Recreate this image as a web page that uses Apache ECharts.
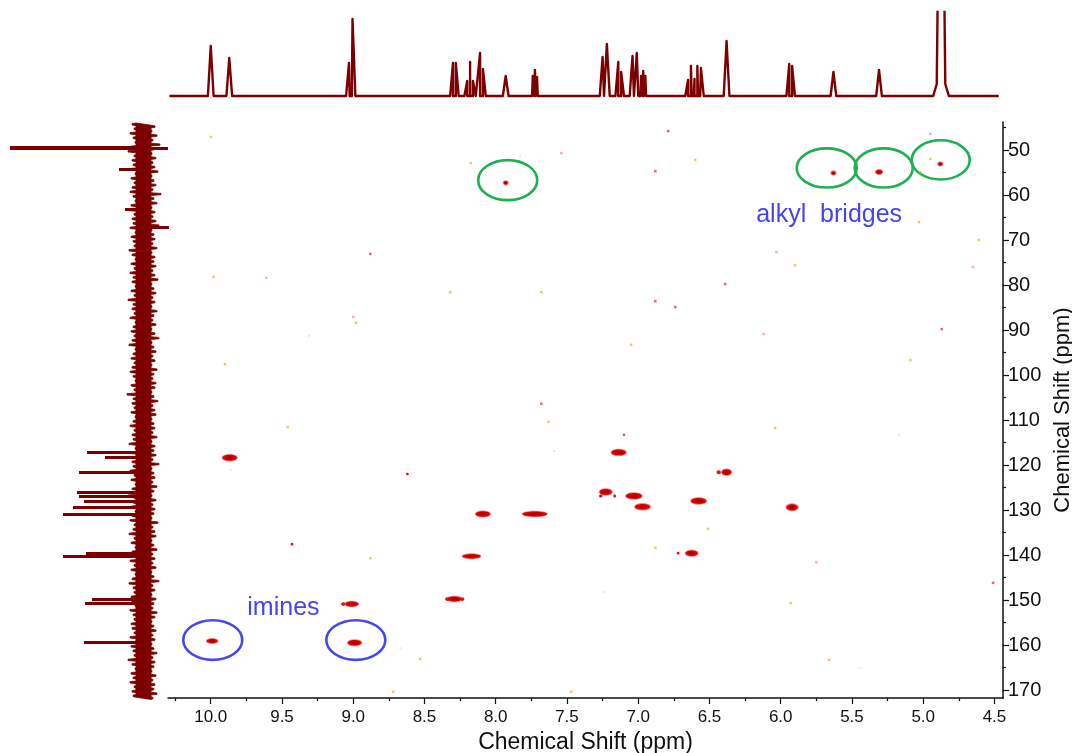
<!DOCTYPE html>
<html>
<head>
<meta charset="utf-8">
<script src="https://cdn.jsdelivr.net/npm/echarts@6/dist/echarts.min.js"></script>
<style>
  html, body { margin: 0; padding: 0; background: #fff; }
  #chart { width: 1072px; height: 753px; }
</style>
</head>
<body>
<div id="chart"></div>
<script>
// ---- axis ranges and tick values (ppm) ----
const protonRange = [4.44, 10.30];
const carbonRange = [43.78, 171.78];
const protonTicks = [4.5, 5.0, 5.5, 6.0, 6.5, 7.0, 7.5, 8.0, 8.5, 9.0, 9.5, 10.0];
const protonMinorTicks = [4.75, 5.25, 5.75, 6.25, 6.75, 7.25, 7.75, 8.25, 8.75, 9.25, 9.75, 10.25];
const carbonTicks = [50, 60, 70, 80, 90, 100, 110, 120, 130, 140, 150, 160, 170];
const carbonMinorTicks = [45, 55, 65, 75, 85, 95, 105, 115, 125, 135, 145, 155, 165];

// ---- 1H projection: [shift ppm, intensity] ----
const protonPeaks = [
  [10.00, 50], [9.87, 38],
  [9.03, 33], [9.005, 77],
  [8.30, 33], [8.28, 33],
  [8.20, 15], [8.18, 34], [8.16, 15],
  [8.11, 43], [8.09, 27],
  [7.93, 20],
  [7.74, 20], [7.725, 26], [7.71, 19],
  [7.25, 39], [7.22, 52],
  [7.14, 34], [7.12, 24],
  [7.04, 40], [7.01, 43], [6.98, 20], [6.965, 25], [6.95, 20],
  [6.65, 16], [6.63, 30], [6.605, 17], [6.585, 30], [6.56, 28],
  [6.38, 55],
  [5.94, 32], [5.92, 30],
  [5.63, 24],
  [5.31, 26]
];
// broad solvent line (runs off the top of the panel)
const protonSolvent = [4.875, 400];
const protonSpan = [10.29, 4.47];

// ---- 13C projection: [shift ppm, intensity] ----
const carbonPeaks = [
  [49.6, 133], [54.2, 24], [63.1, 18],
  [117.1, 56], [118.2, 38], [121.6, 64], [126.0, 66], [126.9, 64],
  [128.0, 59], [129.3, 70], [130.9, 80], [139.6, 57], [140.2, 80],
  [149.8, 51], [150.7, 58], [159.3, 59]
];
const carbonNegative = [[49.6, -25], [67.1, -26]];
const carbonNoiseStart = 44;
const carbonNoiseLeft = [
  11, 9, 13, 10, 8, 12, 15, 9, 11, 10, 14, 8, 12, 9, 11, 13,
  10, 8, 12, 16, 9, 11, 10, 13, 8, 12, 10, 9, 14, 11, 8, 12,
  9, 13, 10, 11, 8, 12, 9, 15, 10, 11, 9, 13, 8, 10, 12, 9,
  11, 14, 8, 10, 12, 9, 11, 13, 10, 8, 12, 9, 16, 10, 11, 9,
  12, 8, 10, 13, 9, 11, 10, 14, 8, 12, 9, 11, 10, 13, 9, 12,
  8, 11, 15, 9, 10, 12, 8, 11, 13, 9, 10, 14, 9, 12, 8, 11,
  10, 13, 9, 12, 8, 11, 14, 10, 9, 12, 11, 8, 13, 10, 9, 12,
  11, 9, 13, 8, 12, 10, 9, 15, 11, 8, 12, 10, 13, 9, 11, 10
];
const carbonNoiseRight = [
  -12, -9, -14, -10, -17, -11, -9, -13, -10, -12, -15, -9, -11, -13, -10, -18,
  -11, -14, -9, -12, -10, -13, -16, -9, -11, -12, -10, -14, -9, -12, -11, -13,
  -10, -12, -15, -9, -11, -13, -10, -12, -9, -14, -11, -10, -13, -9, -12, -16,
  -9, -11, -13, -10, -12, -9, -14, -11, -10, -13, -12, -9, -11, -15, -10, -12,
  -13, -9, -11, -12, -10, -14, -9, -12, -11, -13, -10, -16, -9, -11, -12, -10,
  -14, -11, -9, -13, -10, -12, -11, -9, -15, -10, -12, -13, -9, -11, -14, -10,
  -12, -10, -13, -9, -11, -16, -10, -12, -9, -13, -11, -10, -14, -12, -9, -11,
  -13, -10, -12, -9, -11, -14, -10, -12, -11, -9, -13, -10, -12, -11, -14, -10
];

// ---- HSQC cross peaks: [1H ppm, 13C ppm, 1H extent ppm, 13C extent ppm] ----
const crossPeaks = [
  [9.867, 118.4, 0.100, 1.3],
  [7.137, 117.2, 0.100, 1.3],
  [7.228, 126.0, 0.085, 1.3],
  [7.030, 126.9, 0.110, 1.3],
  [6.970, 129.3, 0.105, 1.3],
  [6.576, 128.0, 0.105, 1.3],
  [5.920, 129.4, 0.080, 1.4],
  [6.380, 121.6, 0.065, 1.3],
  [8.090, 130.9, 0.100, 1.2],
  [7.726, 130.9, 0.170, 1.1],
  [8.170, 140.3, 0.125, 1.0],
  [8.290, 149.8, 0.100, 1.1],
  [9.010, 150.9, 0.090, 1.1],
  [9.990, 159.1, 0.075, 1.0],
  [8.990, 159.5, 0.095, 1.2],
  [6.625, 139.6, 0.085, 1.2],
  [7.930, 57.3, 0.030, 0.8],
  [5.630, 55.1, 0.030, 0.8],
  [5.310, 54.9, 0.045, 1.0],
  [4.880, 53.1, 0.030, 0.8]
];
// weak shoulders next to the main contours
const weakPeaks = [
  [7.263, 126.9, 0.025, 0.7], [7.165, 126.9, 0.020, 0.7],
  [6.435, 121.6, 0.030, 0.9], [8.340, 149.8, 0.030, 0.8],
  [8.235, 149.8, 0.030, 0.8], [9.070, 150.9, 0.030, 0.8],
  [6.720, 139.6, 0.020, 0.6], [9.430, 137.6, 0.020, 0.6],
  [8.620, 122.0, 0.020, 0.6]
];
// isolated noise points of the contour map
const noiseOrange = [
  [10.00, 47.1], [8.175, 52.9], [6.60, 52.2], [5.02, 54.9], [4.95, 52.0],
  [5.03, 66.0], [4.61, 70.0], [9.98, 78.2], [8.32, 81.6], [7.68, 81.6],
  [8.98, 88.4], [9.90, 97.6], [7.63, 110.4], [9.46, 111.6], [5.90, 75.6],
  [7.05, 93.3], [5.09, 96.7], [6.04, 111.8], [6.51, 134.2], [6.88, 138.4],
  [5.93, 150.7], [5.66, 163.3], [8.88, 140.7], [8.53, 163.1], [8.72, 170.4],
  [7.47, 170.4]
];
const noiseFaint = [
  [7.83, 51.3], [5.17, 113.3], [7.59, 116.9], [5.44, 165.1], [7.24, 148.2],
  [9.86, 121.1], [8.67, 160.7], [9.31, 91.3]
];
const noisePink = [
  [7.54, 50.7], [4.95, 46.4], [9.61, 78.4], [9.00, 87.1], [6.03, 72.7],
  [4.65, 76.0], [6.12, 90.9], [5.75, 141.6]
];
const noiseRed = [
  [6.79, 45.8], [6.88, 54.7], [8.88, 73.1], [7.68, 106.4], [6.39, 79.8],
  [6.88, 83.6], [6.74, 84.9], [4.87, 89.8], [7.10, 113.3], [4.51, 146.2]
];

// ---- annotations: [1H centre, 13C centre, 1H span, 13C span] ----
const alkylRings = [
  [7.916, 56.7, 0.414, 8.9],
  [5.677, 54.0, 0.421, 8.7],
  [5.277, 54.0, 0.407, 8.7],
  [4.877, 52.2, 0.407, 8.7]
];
const imineRings = [
  [9.986, 158.9, 0.414, 8.8],
  [8.982, 158.9, 0.414, 8.8]
];
const groupLabels = [
  ['alkyl  bridges', 5.66, 64.4, '#4444f2'],
  ['imines', 9.49, 151.8, '#4444f2']
];

// ---- build traces ----
const PEAK_HALF = 0.02;
const protonTrace = [[protonSpan[0], 0], [protonSpan[1], 0]];
protonPeaks.forEach(([p, h]) => {
  protonTrace.push([p + PEAK_HALF, 0], [p, h], [p - PEAK_HALF, 0]);
});
protonTrace.push(
  [protonSolvent[0] + 0.055, 0],
  [protonSolvent[0] + 0.03, 12],
  [protonSolvent[0], protonSolvent[1]],
  [protonSolvent[0] - 0.03, 12],
  [protonSolvent[0] - 0.055, 0]
);
protonTrace.sort((a, b) => b[0] - a[0]);

// noise band of the 13C trace: a solid core with a comb of excursions on each side
const CORE_LEFT = 7, CORE_RIGHT = -8;
const bandLeft = [];
carbonNoiseLeft.forEach((v, i) => {
  const p = carbonNoiseStart + i;
  bandLeft.push([CORE_LEFT, p], [v, p + 0.15], [v, p + 0.45], [CORE_LEFT, p + 0.6]);
});
const bandRight = [];
carbonNoiseRight.forEach((v, i) => {
  const p = carbonNoiseStart + i + 0.5;
  bandRight.push([CORE_RIGHT, p], [v, p + 0.15], [v, p + 0.45], [CORE_RIGHT, p + 0.6]);
});
const carbonBand = bandLeft.concat(bandRight.reverse());
const carbonSticks = carbonPeaks.concat(carbonNegative).map(([p, h]) => ({
  coords: [[0, p], [h, p]],
  lineStyle: { width: h > 100 ? 4 : 3 }
}));

const FONT = '"Liberation Sans", Arial, sans-serif';
const MAROON = '#7c0000';

function crossPeakItem(params, api) {
  const c = api.coord([api.value(0), api.value(1)]);
  const s = api.size([api.value(2), api.value(3)]);
  const rx = s[0] / 2, ry = s[1] / 2;
  return {
    type: 'group',
    children: [
      { type: 'ellipse', shape: { cx: c[0], cy: c[1], rx: rx + 1, ry: ry + 0.8 }, style: { fill: 'rgba(236,40,40,0.55)' } },
      { type: 'ellipse', shape: { cx: c[0], cy: c[1], rx: rx, ry: ry }, style: { fill: '#d90000' } },
      { type: 'ellipse', shape: { cx: c[0], cy: c[1], rx: rx * 0.5, ry: ry * 0.55 }, style: { fill: '#a80000' } }
    ]
  };
}
function ringItem(color) {
  return function (params, api) {
    const c = api.coord([api.value(0), api.value(1)]);
    const s = api.size([api.value(2), api.value(3)]);
    return {
      type: 'ellipse',
      shape: { cx: c[0], cy: c[1], rx: s[0] / 2, ry: s[1] / 2 },
      style: { fill: 'none', stroke: color, lineWidth: 2.6 }
    };
  };
}
function dotSeries(data, color, size) {
  return {
    type: 'scatter', xAxisIndex: 0, yAxisIndex: 0, data: data,
    symbol: 'rect', symbolSize: size, itemStyle: { color: color }, silent: true
  };
}

const chart = echarts.init(document.getElementById('chart'), null, { renderer: 'canvas' });
const hiddenAxis = { show: false, splitLine: { show: false } };

chart.setOption({
  animation: false,
  backgroundColor: '#ffffff',
  grid: [
    { left: 168, top: 122, width: 835, height: 576, outerBoundsMode: 'none', containLabel: false },   // contour map
    { left: 168, top: 12, width: 835, height: 87, outerBoundsMode: 'none', containLabel: false },     // 1H projection
    { left: 0, top: 122, width: 168, height: 576, outerBoundsMode: 'none', containLabel: false }      // 13C projection
  ],
  xAxis: [
    {
      type: 'value', gridIndex: 0, min: protonRange[0], max: protonRange[1], inverse: true,
      position: 'bottom',
      axisLine: { show: true, onZero: false, lineStyle: { color: '#111', width: 1.5 } },
      axisTick: { show: true, length: 6, customValues: protonTicks, lineStyle: { color: '#111', width: 1.2 } },
      axisLabel: { customValues: protonTicks, formatter: v => v.toFixed(1), fontSize: 17, color: '#111', fontFamily: FONT, margin: 11 },
      splitLine: { show: false },
      name: 'Chemical Shift (ppm)', nameLocation: 'middle', nameGap: 30,
      nameTextStyle: { fontSize: 23, color: '#111', fontFamily: FONT }
    },
    {
      type: 'value', gridIndex: 0, min: protonRange[0], max: protonRange[1], inverse: true,
      position: 'bottom',
      axisLine: { show: false, onZero: false },
      axisTick: { show: true, length: 3, customValues: protonMinorTicks, lineStyle: { color: '#111', width: 1.2 } },
      axisLabel: { show: false },
      splitLine: { show: false }
    },
    Object.assign({ type: 'value', gridIndex: 1, min: protonRange[0], max: protonRange[1], inverse: true }, hiddenAxis),
    Object.assign({ type: 'value', gridIndex: 2, min: -25, max: 143, inverse: true }, hiddenAxis)
  ],
  yAxis: [
    {
      type: 'value', gridIndex: 0, min: carbonRange[0], max: carbonRange[1], inverse: true,
      position: 'right',
      axisLine: { show: true, onZero: false, lineStyle: { color: '#111', width: 1.5 } },
      axisTick: { show: true, length: 6, customValues: carbonTicks, lineStyle: { color: '#111', width: 1.2 } },
      axisLabel: { customValues: carbonTicks, fontSize: 20, color: '#111', fontFamily: FONT, margin: 5 },
      splitLine: { show: false },
      name: 'Chemical Shift (ppm)', nameLocation: 'middle', nameGap: 46,
      nameTextStyle: { fontSize: 22, color: '#111', fontFamily: FONT }
    },
    {
      type: 'value', gridIndex: 0, min: carbonRange[0], max: carbonRange[1], inverse: true,
      position: 'right',
      axisLine: { show: false, onZero: false },
      axisTick: { show: true, length: 3, customValues: carbonMinorTicks, lineStyle: { color: '#111', width: 1.2 } },
      axisLabel: { show: false },
      splitLine: { show: false }
    },
    Object.assign({ type: 'value', gridIndex: 1, min: -3, max: 84 }, hiddenAxis),
    Object.assign({ type: 'value', gridIndex: 2, min: carbonRange[0], max: carbonRange[1], inverse: true }, hiddenAxis)
  ],
  series: [
    {
      name: '1H', type: 'line', xAxisIndex: 2, yAxisIndex: 2, data: protonTrace,
      showSymbol: false, clip: true, silent: true,
      lineStyle: { color: MAROON, width: 2.4, join: 'round' }
    },
    {
      name: '13C band', type: 'custom', xAxisIndex: 3, yAxisIndex: 3, data: [[0, carbonNoiseStart]], silent: true,
      renderItem: function (params, api) {
        return {
          type: 'polygon',
          shape: { points: carbonBand.map(pt => api.coord(pt)) },
          style: { fill: MAROON, stroke: MAROON, lineWidth: 0.8 }
        };
      }
    },
    {
      name: '13C peaks', type: 'lines', coordinateSystem: 'cartesian2d', xAxisIndex: 3, yAxisIndex: 3,
      data: carbonSticks, silent: true,
      lineStyle: { color: MAROON, width: 3, opacity: 1 }
    },
    dotSeries(noiseFaint, 'rgba(250,190,150,0.6)', 2),
    dotSeries(noiseOrange, 'rgba(245,170,40,0.85)', 2.5),
    dotSeries(noisePink, 'rgba(240,110,130,0.7)', 2.5),
    dotSeries(noiseRed, 'rgba(225,30,30,0.85)', 2.5),
    {
      name: 'weak', type: 'custom', xAxisIndex: 0, yAxisIndex: 0, data: weakPeaks, silent: true,
      renderItem: function (params, api) {
        const c = api.coord([api.value(0), api.value(1)]);
        const s = api.size([api.value(2), api.value(3)]);
        return { type: 'ellipse', shape: { cx: c[0], cy: c[1], rx: s[0] / 2, ry: s[1] / 2 }, style: { fill: '#e01010' } };
      }
    },
    {
      name: 'HSQC', type: 'custom', xAxisIndex: 0, yAxisIndex: 0, data: crossPeaks, silent: true,
      renderItem: crossPeakItem
    },
    {
      name: 'alkyl', type: 'custom', xAxisIndex: 0, yAxisIndex: 0, data: alkylRings, silent: true,
      renderItem: ringItem('#1fb04f')
    },
    {
      name: 'imine', type: 'custom', xAxisIndex: 0, yAxisIndex: 0, data: imineRings, silent: true,
      renderItem: ringItem('#4646ee')
    },
    {
      name: 'labels', type: 'custom', xAxisIndex: 0, yAxisIndex: 0, silent: true,
      data: groupLabels.map(g => [g[1], g[2]]),
      renderItem: function (params, api) {
        const g = groupLabels[params.dataIndex];
        const c = api.coord([api.value(0), api.value(1)]);
        return {
          type: 'text', x: c[0], y: c[1],
          style: { text: g[0], fill: g[3], font: '25px ' + FONT, align: 'center', verticalAlign: 'middle' }
        };
      }
    }
  ]
});
</script>
</body>
</html>
